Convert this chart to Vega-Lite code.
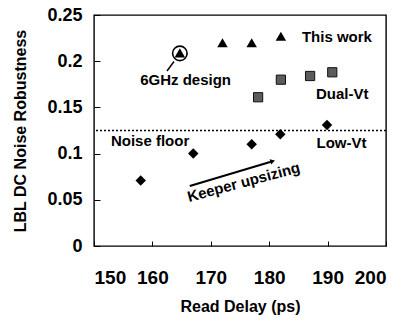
{
  "$schema": "https://vega.github.io/schema/vega-lite/v6.json",
  "width": 292,
  "height": 231,
  "autosize": "none",
  "padding": {"left": 94, "top": 15, "right": 27, "bottom": 76},
  "background": "white",
  "config": {
    "view": {"stroke": "black", "strokeWidth": 1.4},
    "font": "Liberation Sans",
    "axis": {"grid": false, "domain": false, "tickColor": "black", "tickWidth": 1, "labelColor": "black", "titleColor": "black", "labelFont": "Liberation Sans", "titleFont": "Liberation Sans", "labelFontWeight": "bold", "titleFontWeight": "bold"}
  },
  "datasets": {
    "pts": [
      {"x": 164.7, "y": 0.209, "series": "This work"},
      {"x": 172, "y": 0.22, "series": "This work"},
      {"x": 177, "y": 0.22, "series": "This work"},
      {"x": 182, "y": 0.227, "series": "This work"},
      {"x": 178.1, "y": 0.161, "series": "Dual-Vt"},
      {"x": 182.0, "y": 0.180, "series": "Dual-Vt"},
      {"x": 187.0, "y": 0.184, "series": "Dual-Vt"},
      {"x": 190.8, "y": 0.188, "series": "Dual-Vt"},
      {"x": 158.0, "y": 0.071, "series": "Low-Vt"},
      {"x": 167.0, "y": 0.100, "series": "Low-Vt"},
      {"x": 177.0, "y": 0.110, "series": "Low-Vt"},
      {"x": 181.9, "y": 0.121, "series": "Low-Vt"},
      {"x": 189.9, "y": 0.131, "series": "Low-Vt"}
    ],
    "labels": [
      {"x": 185.6, "y": 0.221, "text": "This work"},
      {"x": 157.9, "y": 0.1742, "text": "6GHz design"},
      {"x": 188.0, "y": 0.1591, "text": "Dual-Vt"},
      {"x": 152.9, "y": 0.1082, "text": "Noise floor"},
      {"x": 188.1, "y": 0.1057, "text": "Low-Vt"}
    ]
  },
  "layer": [
    {
      "data": {"values": [{"y": 0.125}]},
      "mark": {"type": "rule", "strokeDash": [2, 2], "strokeWidth": 1.5, "color": "black"},
      "encoding": {"y": {"field": "y", "type": "quantitative", "scale": {"domain": [0, 0.25]}}}
    },
    {
      "data": {"name": "pts"},
      "transform": [{"filter": "datum.series === 'This work'"}],
      "mark": {"type": "point", "shape": "triangle-up", "filled": true, "color": "black", "size": 110, "opacity": 1},
      "encoding": {
        "x": {"field": "x", "type": "quantitative", "scale": {"domain": [150, 200], "nice": false},
          "axis": {"values": [150, 160, 170, 180, 190, 200], "title": "Read Delay (ps)", "tickSize": -5, "labelPadding": 27, "labelFontSize": 19, "titleFontSize": 16, "titlePadding": 11}},
        "y": {"field": "y", "type": "quantitative", "scale": {"domain": [0, 0.25], "nice": false},
          "axis": {"values": [0, 0.05, 0.1, 0.15, 0.2, 0.25], "format": ".2~f", "title": "LBL DC Noise Robustness", "tickSize": -6, "labelPadding": 18, "labelFontSize": 18, "titleFontSize": 16, "titlePadding": 18}}
      }
    },
    {
      "data": {"name": "pts"},
      "transform": [{"filter": "datum.series === 'Dual-Vt'"}],
      "mark": {"type": "point", "shape": "square", "filled": true, "fill": "#5c5c5c", "stroke": "#111", "strokeWidth": 1, "size": 85, "opacity": 1},
      "encoding": {
        "x": {"field": "x", "type": "quantitative"},
        "y": {"field": "y", "type": "quantitative"}
      }
    },
    {
      "data": {"name": "pts"},
      "transform": [{"filter": "datum.series === 'Low-Vt'"}],
      "mark": {"type": "point", "shape": "diamond", "filled": true, "color": "black", "size": 110, "opacity": 1},
      "encoding": {
        "x": {"field": "x", "type": "quantitative"},
        "y": {"field": "y", "type": "quantitative"}
      }
    },
    {
      "data": {"values": [{"x": 164.7, "y": 0.2085}]},
      "mark": {"type": "point", "shape": "circle", "filled": false, "stroke": "black", "strokeWidth": 1.6, "size": 210, "opacity": 1},
      "encoding": {
        "x": {"field": "x", "type": "quantitative"},
        "y": {"field": "y", "type": "quantitative"}
      }
    },
    {
      "data": {"values": [{"x": 163.7, "y": 0.1996}, {"x": 162.5, "y": 0.1894}]},
      "mark": {"type": "line", "color": "black", "strokeWidth": 1.5},
      "encoding": {
        "x": {"field": "x", "type": "quantitative"},
        "y": {"field": "y", "type": "quantitative"}
      }
    },
    {
      "data": {"values": [{"x": 166.4, "y": 0.0649}, {"x": 180.3, "y": 0.0912}]},
      "mark": {"type": "line", "color": "black", "strokeWidth": 2},
      "encoding": {
        "x": {"field": "x", "type": "quantitative"},
        "y": {"field": "y", "type": "quantitative"}
      }
    },
    {
      "data": {"values": [{"x": 180.6, "y": 0.0918}]},
      "mark": {"type": "point", "shape": "triangle-right", "filled": true, "color": "black", "size": 30, "angle": -17, "opacity": 1},
      "encoding": {
        "x": {"field": "x", "type": "quantitative"},
        "y": {"field": "y", "type": "quantitative"}
      }
    },
    {
      "data": {"name": "labels"},
      "mark": {"type": "text", "align": "left", "baseline": "alphabetic", "fontSize": 15, "fontWeight": "bold", "font": "Liberation Sans", "color": "black"},
      "encoding": {
        "x": {"field": "x", "type": "quantitative"},
        "y": {"field": "y", "type": "quantitative"},
        "text": {"field": "text"}
      }
    },
    {
      "data": {"values": [{"x": 175.85, "y": 0.0639, "text": "Keeper upsizing"}]},
      "mark": {"type": "text", "align": "center", "baseline": "alphabetic", "angle": -15, "fontSize": 15, "fontWeight": "bold", "font": "Liberation Sans", "color": "black"},
      "encoding": {
        "x": {"field": "x", "type": "quantitative"},
        "y": {"field": "y", "type": "quantitative"},
        "text": {"field": "text"}
      }
    }
  ]
}
